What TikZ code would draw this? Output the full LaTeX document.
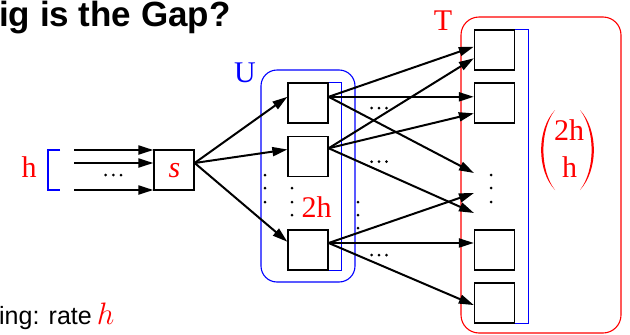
\RequirePackage{fix-cm}
\documentclass[tikz,border=0pt]{standalone}
\usepackage{fontspec}
\setmainfont{Liberation Serif}
\setsansfont{Liberation Sans}
\usetikzlibrary{arrows.meta,calc}
\begin{document}
\begin{tikzpicture}[x=1pt,y={(0,-1pt)},
  cell/.style={draw=black,line width=1.3pt,fill=white,minimum size=40pt,inner sep=0pt},
  arr/.style={line width=2pt,-{Triangle[length=15pt,width=9pt]}},
  big/.style={inner sep=0pt,font=\fontsize{30}{36}\selectfont},
  dot/.style={fill=black}]
\useasboundingbox (0,0) rectangle (630,335);
% title and footer
\node[anchor=base west,inner sep=0pt,font=\sffamily\bfseries\fontsize{35}{38}\selectfont] (title) at (-1,26.5) {ig is the Gap?};
\node[anchor=base west,inner sep=0pt,font=\sffamily\fontsize{25}{30}\selectfont] (foot) at (-1,324) {ing: rate\hspace{0.2em}\textcolor{red}{\fontsize{31}{36}\selectfont$h$}};
% group frames
\draw[blue,line width=1.1pt,rounded corners=16pt] (261,70) rectangle (355,282);
\draw[red,line width=1.1pt,rounded corners=18pt] (461,17) rectangle (621,333);
\node[big,blue,anchor=base] (ulab) at (245,82) {U};
\node[big,red,anchor=base] (tlab) at (443,30) {T};
% input side
\node[big,red,anchor=base] (hlab) at (29,177) {h};
\draw[blue,line width=1.1pt] (60,150) -- (48,150) -- (48,190) -- (60,190);
\node[cell] (s) at (174,170) {};
\node[big,red,anchor=base] (slab) at (174.5,177) {\itshape s};
\coordinate (i1) at (74,150);
\coordinate (i2) at (74,163);
\coordinate (i3) at (74,190);
\draw[arr] (i1) -- (i1 -| s.west);
\draw[arr] (i2) -- (i2 -| s.west);
\draw[arr] (i3) -- (i3 -| s.west);
% U cells
\node[cell] (u1) at (308,103) {};
\node[cell] (u2) at (308,156.5) {};
\node[cell] (u3) at (308,250) {};
\draw[blue,line width=1.1pt] (u1.north east) -- ++(13,0) |- (u3.south east);
% T cells
\node[cell] (t1) at (494.5,50) {};
\node[cell] (t2) at (494.5,103) {};
\node[cell] (t3) at (494.5,250) {};
\node[cell] (t4) at (494.5,303) {};
\draw[blue,line width=1.1pt] (t1.north east) -- ++(13,0) |- (t4.south east);
% s to U
\coordinate (so) at ($(s.north east)!0.33!(s.south east)$);
\draw[arr] (so) -- ($(u1.north west)!0.35!(u1.south west)$);
\draw[arr] (so) -- ($(u2.north west)!0.33!(u2.south west)$);
\draw[arr] (so) -- ($(u3.north west)!0.3!(u3.south west)$);
% U to T
\coordinate (o1) at ($(u1.north east)!0.35!(u1.south east)$);
\coordinate (o2) at ($(u2.north east)!0.3!(u2.south east)$);
\coordinate (o3) at ($(u3.north east)!0.33!(u3.south east)$);
\coordinate (d1) at (474,173);
\coordinate (d2) at (474,193);
\coordinate (d3) at (474,213);
\draw[arr] (o1) -- ($(t1.north west)!0.42!(t1.south west)$);
\draw[arr] (o1) -- (o1 -| t2.west);
\draw[arr] (o1) -- (d1);
\draw[arr] (o2) -- ($(t1.north west)!0.7!(t1.south west)$);
\draw[arr] (o2) -- ($(t2.north west)!0.75!(t2.south west)$);
\draw[arr] (o2) -- (d3);
\draw[arr] (o3) -- (d2);
\draw[arr] (o3) -- (o3 -| t3.west);
\draw[arr] (o3) -- ($(t4.north west)!0.55!(t4.south west)$);
% labels
\node[big,red,anchor=base] (u2h) at (316.5,217) {2h};
\node[big,red,anchor=base] (bn) at (569,140) {2h};
\node[big,red,anchor=base] (bd) at (569.5,177) {h};
\fill[red] (555,110) .. controls (536.5,130) and (536.5,170) .. (555,190)
  .. controls (539.5,170) and (539.5,130) .. (555,110) -- cycle;
\fill[red] (580,110) .. controls (598.5,130) and (598.5,170) .. (580,190)
  .. controls (595.5,170) and (595.5,130) .. (580,110) -- cycle;
% dots
\foreach \x in {105.7,113.3,121} \fill[dot] (\x,175) circle (1.5);
\foreach \y in {108,161.7,255} \foreach \x in {371.7,379,386.5} \fill[dot] (\x,\y) circle (1.5);
\foreach \y in {175,188,202} \fill[dot] (265,\y) circle (1.5);
\foreach \y in {188,202,215} \fill[dot] (292,\y) circle (1.5);
\foreach \y in {202,215,228} \fill[dot] (358,\y) circle (1.5);
\foreach \y in {175,188,202} \fill[dot] (491,\y) circle (1.5);
\end{tikzpicture}
\end{document}
